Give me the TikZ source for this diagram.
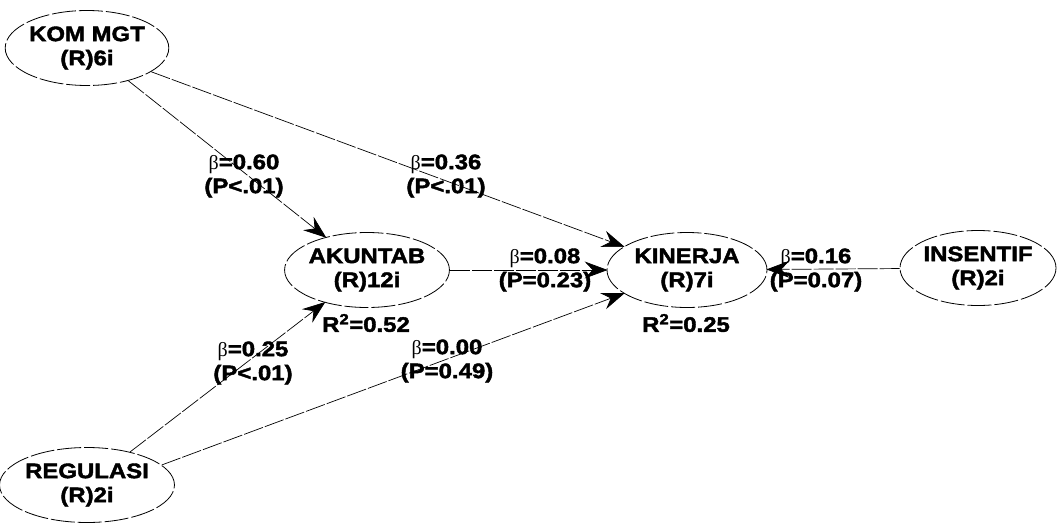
\documentclass[tikz,border=0pt]{standalone}
\usepackage{fontspec}
\setmainfont{Liberation Sans}[FakeStretch=1.14, BoldFeatures={FakeBold=2}]
\newfontfamily\betafont{Liberation Serif}
\usetikzlibrary{shapes.geometric,arrows.meta}
\tikzset{
  lv/.style={ellipse, draw, line width=0.8pt, dash pattern=on 24pt off 3pt,
    minimum width=160pt, minimum height=75pt, inner sep=0pt, align=center,
    font=\fontsize{21}{24}\selectfont\bfseries},
  lbl/.style={align=center, inner sep=0pt, font=\fontsize{21}{24}\selectfont\bfseries},
  path/.style={line width=0.7pt, dash pattern=on 20pt off 2pt,
    -{Stealth[length=23pt,width=17pt,inset=8pt]}, shorten >=-1pt}
}
\newcommand{\bt}{{\betafont\mdseries\fontsize{20}{24}\selectfont β}}
\begin{document}
\begin{tikzpicture}[x=1pt,y=-1pt]
\useasboundingbox[fill=white] (0,0) rectangle (1057,525);
\node[lv] (kom) at (87,48) {KOM MGT\\(R)6i};
\node[lv] (ak) at (367,270) {AKUNTAB\\(R)12i};
\node[lv] (kin) at (687,270) {KINERJA\\(R)7i};
\node[lv, minimum width=156pt] (ins) at (978,268) {INSENTIF\\(R)2i};
\node[lv] (reg) at (87,485) {REGULASI\\(R)2i};

\draw[path] (kom) -- (ak);
\draw[path] (kom) -- (kin);
\draw[path] (ak) -- (kin);
\draw[path] (ins) -- (kin);
\draw[path] (reg) -- (ak);
\draw[path] (reg.15) -- (kin);

\node[lbl] (l1) at (244,176) {\bt=0.60\\(P<.01)};
\node[lbl] (l2) at (446,176) {\bt=0.36\\(P<.01)};
\node[lbl] (l3) at (545,270) {\bt=0.08\\(P=0.23)};
\node[lbl] (l4) at (816,270) {\bt=0.16\\(P=0.07)};
\node[lbl] (l5) at (253,363) {\bt=0.25\\(P<.01)};
\node[lbl] (l6) at (447,361) {\bt=0.00\\(P=0.49)};
\node[lbl] (r1) at (366,323) {R\textsuperscript{2}=0.52};
\node[lbl] (r2) at (686,323) {R\textsuperscript{2}=0.25};
\end{tikzpicture}
\end{document}
